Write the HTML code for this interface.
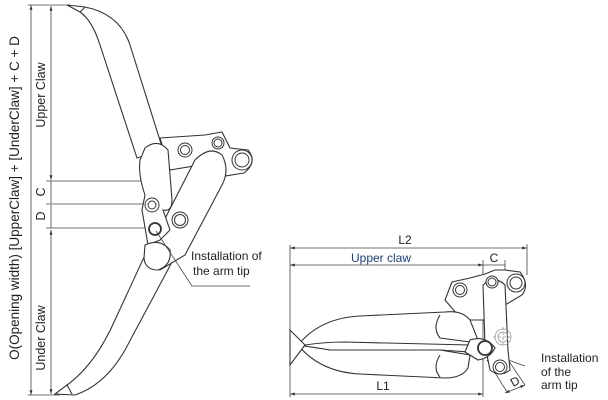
<!DOCTYPE html>
<html><head><meta charset="utf-8"><style>
html,body{margin:0;padding:0;background:#fff;}
svg{display:block;}
text{font-family:"Liberation Sans",sans-serif;fill:#222;}
</style></head><body>
<svg width="608" height="400" viewBox="0 0 608 400" xmlns="http://www.w3.org/2000/svg">
<defs>
<marker id="a" viewBox="0 0 10 10" refX="10" refY="5" markerWidth="6" markerHeight="6" orient="auto-start-reverse"><path d="M0,2 L10,5 L0,8z" fill="#333"/></marker>
</defs>
<g stroke="#444" stroke-width="0.8" fill="none">
<line x1="31" y1="5" x2="31" y2="395" marker-start="url(#a)" marker-end="url(#a)"/>
<line x1="51" y1="6" x2="51" y2="180" marker-start="url(#a)" marker-end="url(#a)"/>
<line x1="51" y1="181" x2="51" y2="204"/>
<line x1="51" y1="205" x2="51" y2="228"/>
<line x1="51" y1="230" x2="51" y2="394" marker-start="url(#a)" marker-end="url(#a)"/>
<line x1="28" y1="5" x2="70" y2="5"/>
<line x1="28" y1="395" x2="60" y2="395"/>
<line x1="46" y1="181" x2="145" y2="181"/>
<line x1="46" y1="204" x2="150" y2="204"/>
<line x1="46" y1="228" x2="155" y2="228"/>
</g>
<g stroke="#333" stroke-width="1.1" fill="#fff">
<path d="M67,5 L85,7 Q120,14 130,45 L163,150 L137,158 L100,45 Q92,20 80,12 Z"/>
<line x1="80" y1="12" x2="85" y2="7"/>
<path d="M172,262 L125,350 Q105,385 75,395 L55,394 L67,385 Q95,365 115,320 L145,255 Z" />
<line x1="67" y1="385" x2="72" y2="394"/>
<path d="M160,138 L205,135 L222,132 L230,148 L248,150 Q258,162 244,173 L225,176 L200,165 L170,170 Z"/>
<path d="M195,160 Q210,145 222,155 Q230,170 222,185 L185,255 L160,270 Q148,262 150,248 Z"/>
<path d="M145,148 Q158,138 168,150 L172,200 Q172,212 163,210 L170,230 L160,240 L148,245 L142,210 L145,195 Q138,175 140,160 Z"/>
<path d="M145,245 Q160,238 170,250 Q172,265 158,270 Q145,270 144,258 Z"/>
</g>
<g stroke="#333" stroke-width="1" fill="#fff">
<circle cx="185" cy="150" r="7"/><circle cx="185" cy="150" r="4.5"/>
<circle cx="218" cy="143" r="6"/><circle cx="218" cy="143" r="4"/>
<circle cx="242" cy="160" r="10"/><circle cx="242" cy="160" r="7"/>
<circle cx="152" cy="205" r="7"/><circle cx="152" cy="205" r="4"/>
<circle cx="180" cy="220" r="8"/><circle cx="180" cy="220" r="5.5"/>
<circle cx="155" cy="229" r="6" stroke-width="1.8"/>
</g>
<polyline points="156,231 192,286 250,286" fill="none" stroke="#444" stroke-width="0.8"/>
<text transform="translate(19,198) rotate(-90)" font-size="13.5" text-anchor="middle">O(Opening width)  [UpperClaw] + [UnderClaw] + C + D</text>
<text transform="translate(45,95) rotate(-90)" font-size="12.5" text-anchor="middle">Upper Claw</text>
<text transform="translate(45,192) rotate(-90)" font-size="12.5" text-anchor="middle">C</text>
<text transform="translate(45,216) rotate(-90)" font-size="12.5" text-anchor="middle">D</text>
<text transform="translate(45,338) rotate(-90)" font-size="12.5" text-anchor="middle">Under Claw</text>
<text x="191" y="260" font-size="12">Installation of</text>
<text x="193" y="275" font-size="12">the arm tip</text>

<g stroke="#444" stroke-width="0.8" fill="none">
<line x1="290" y1="248" x2="527" y2="248" marker-start="url(#a)" marker-end="url(#a)"/>
<line x1="290" y1="265" x2="483" y2="265" marker-start="url(#a)" marker-end="url(#a)"/>
<line x1="483" y1="265" x2="505" y2="265"/>
<line x1="290" y1="394" x2="483" y2="394" marker-start="url(#a)" marker-end="url(#a)"/>
<line x1="290" y1="245" x2="290" y2="397"/>
<line x1="483" y1="260" x2="483" y2="397"/>
<line x1="505" y1="260" x2="505" y2="275"/>
<line x1="527" y1="244" x2="527" y2="275"/>
<line x1="470" y1="349" x2="500" y2="349" stroke-dasharray="4,2"/>
<line x1="486" y1="352" x2="525" y2="366"/>
<line x1="487" y1="360" x2="507" y2="392"/>
<line x1="500" y1="348" x2="525" y2="385"/>
<line x1="505" y1="393" x2="525" y2="385" marker-start="url(#a)" marker-end="url(#a)"/>
</g>
<g stroke="#333" stroke-width="1.1" fill="#fff">
<path d="M445,300 L452,282 L470,278 L485,274 L495,270 L505,270 L520,272 Q530,285 522,295 L505,305 L500,320 L462,320 Z"/>
<path d="M483,285 Q495,275 505,285 L508,350 L510,370 Q500,378 490,370 L485,345 Z"/>
<path d="M298,345 Q320,318 360,316 L445,312 Q462,310 470,320 L478,340 L470,352 L440,350 L330,350 Z"/>
<path d="M298,345 Q320,372 360,374 L445,378 Q462,378 468,368 L470,355 L440,350 L330,350 Z"/>
<path d="M290,330 L305,345 L290,365 Z"/>
<path d="M305,345 Q325,342 345,342 L470,345" fill="none"/>
<path d="M440,315 Q432,328 440,338 L470,342" fill="none"/>
<path d="M440,355 Q432,368 440,377" fill="none"/>
<path d="M470,340 Q485,335 495,348 Q490,358 478,360 L465,352 Z"/>
</g>
<g stroke="#333" stroke-width="1" fill="#fff">
<circle cx="460" cy="290" r="7"/><circle cx="460" cy="290" r="4.5"/>
<circle cx="492" cy="282" r="6"/><circle cx="492" cy="282" r="4"/>
<circle cx="516" cy="283" r="9"/><circle cx="516" cy="283" r="6"/>
<circle cx="485" cy="348" r="7" stroke-width="1.8"/>
<circle cx="500" cy="367" r="7"/><circle cx="500" cy="367" r="4.5"/>
</g>
<g stroke="#999" stroke-width="0.8" fill="none">
<circle cx="503" cy="337" r="8"/><circle cx="503" cy="337" r="5"/>
<line x1="493" y1="337" x2="513" y2="337" stroke-dasharray="3,2"/>
<line x1="503" y1="327" x2="503" y2="347" stroke-dasharray="3,2"/>
</g>
<text x="405" y="244" font-size="12" text-anchor="middle">L2</text>
<text x="381" y="262" font-size="12" text-anchor="middle" style="fill:#1a3d8a">Upper claw</text>
<text x="494" y="262" font-size="12" text-anchor="middle">C</text>
<text x="383" y="390" font-size="12" text-anchor="middle">L1</text>
<text transform="translate(517,385) rotate(-30)" font-size="12" text-anchor="middle">D</text>
<text x="541" y="362" font-size="12">Installation</text>
<text x="541" y="376" font-size="12">of  the</text>
<text x="541" y="389" font-size="12">arm tip</text>
</svg>
</body></html>
